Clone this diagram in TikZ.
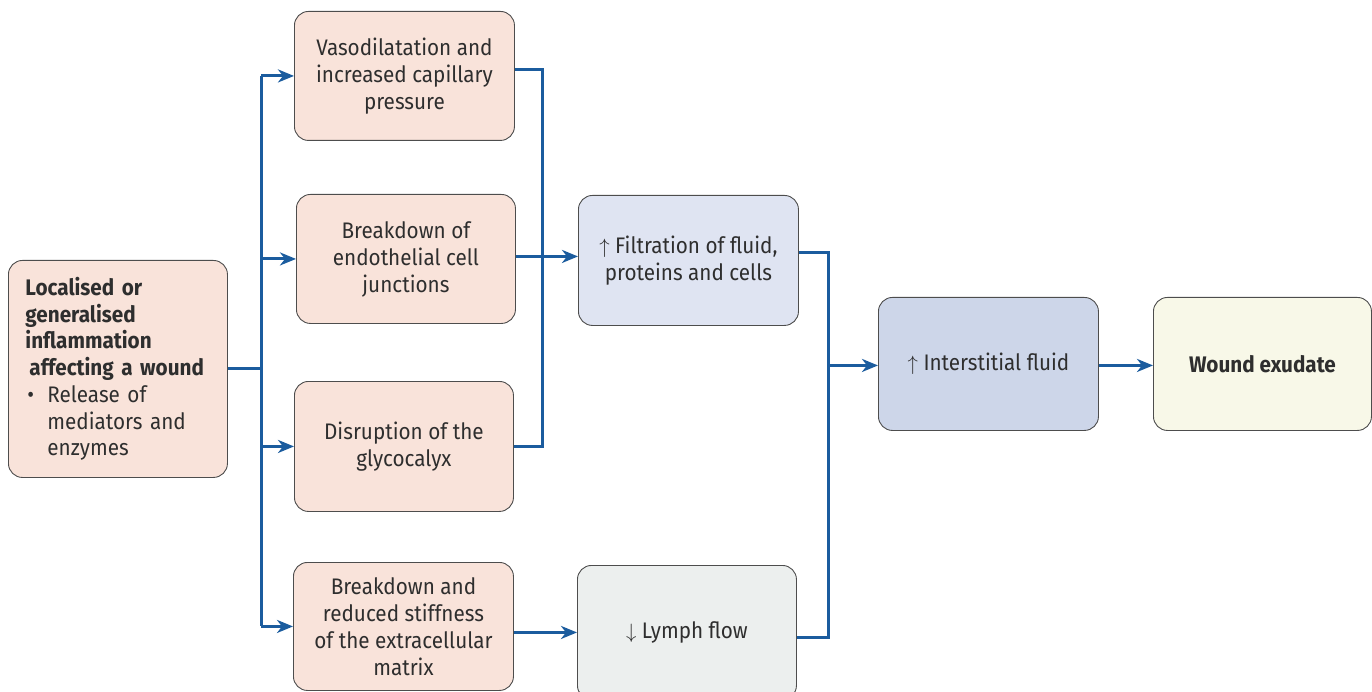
\documentclass[tikz,border=0pt]{standalone}
\usepackage{fontspec}
\setmainfont{Fira Sans}[FakeStretch=0.92]
\usetikzlibrary{arrows.meta,calc}
\definecolor{pinkfill}{HTML}{F9E3DA}
\definecolor{filtfill}{HTML}{DFE4F2}
\definecolor{intfill}{HTML}{CDD6E9}
\definecolor{woundfill}{HTML}{F8F8E8}
\definecolor{lymphfill}{HTML}{ECEFEE}
\definecolor{bordergray}{HTML}{4D4D4D}
\definecolor{textgray}{HTML}{2E2E2E}
\definecolor{linkblue}{HTML}{1B5C9E}
\begin{document}
\begin{tikzpicture}[x=1pt,y=-1pt,
  box/.style={draw=bordergray, line width=0.9pt, rounded corners=14pt, align=center,
    text=textgray, inner sep=0pt, anchor=north west, font=\fontsize{22.5}{27}\selectfont},
  link/.style={draw=linkblue, line width=3pt},
  arr/.style={link, -{Stealth[length=16pt,width=13pt,inset=5pt]}}]
\useasboundingbox (0,0) rectangle (1372,692);

\node[box, fill=pinkfill, text width=185pt, inner xsep=17pt, minimum height=217pt, align=left,
  font=\fontsize{22.5}{26.7}\selectfont] (inf) at (8,260)
  {\textbf{Localised or}\\\textbf{generalised}\\\textbf{inflammation}\\\hspace*{4pt}\textbf{affecting a wound}\\
   \makebox[22pt][l]{\hspace*{2pt}•}Release of\\\hspace*{22pt}mediators and\\\hspace*{22pt}enzymes};

\node[box, fill=pinkfill, minimum width=220pt, minimum height=129pt] (vaso) at (294,11)
  {Vasodilatation and\\increased capillary\\pressure};
\node[box, fill=pinkfill, minimum width=219pt, minimum height=129pt] (endo) at (296,194)
  {Breakdown of\\endothelial cell\\junctions};
\node[box, fill=pinkfill, minimum width=219pt, minimum height=130pt] (glyco) at (294,381)
  {Disruption of the\\glycocalyx};
\node[box, fill=pinkfill, minimum width=220pt, minimum height=128pt] (ecm) at (293,562)
  {Breakdown and\\reduced stiffness\\of the extracellular\\matrix};

\node[box, fill=filtfill, minimum width=220pt, minimum height=130pt] (filt) at (578,195)
  {$\uparrow$ Filtration of fluid,\\proteins and cells};
\node[box, fill=lymphfill, minimum width=219pt, minimum height=134pt] (lymph) at (577,565)
  {$\downarrow$ Lymph flow};

\node[box, fill=intfill, minimum width=220pt, minimum height=133pt] (inter) at (878,297)
  {$\uparrow$ Interstitial fluid};
\node[box, fill=woundfill, minimum width=218pt, minimum height=133pt] (wound) at (1153,297)
  {\textbf{Wound exudate}};

% left distribution
\coordinate (trunk) at (261,0);
\coordinate (colA) at (542,0);
\coordinate (colB) at (828,0);
\draw[link] (inf.east) -- (inf.east -| trunk);
\draw[link] (vaso.west -| trunk) -- (ecm.west -| trunk);
\draw[arr] (vaso.west -| trunk) -- (vaso.west);
\draw[arr] (endo.west -| trunk) -- (endo.west);
\draw[arr] (glyco.west -| trunk) -- (glyco.west);
\draw[arr] (ecm.west -| trunk) -- (ecm.west);

% first collector
\coordinate (vout) at ($(vaso.east)+(0,-6.5)$);
\draw[link] (vout) -- (vout -| colA) -- (glyco.east -| colA) -- (glyco.east);
\coordinate (eout) at ($(endo.east)+(0,-2.5)$);
\draw[arr] (eout) -- (eout -| filt.west);
\coordinate (mout) at ($(ecm.east)+(0,6)$);
\draw[arr] (mout) -- (mout -| lymph.west);

% second collector
\coordinate (fout) at ($(filt.east)+(0,-8)$);
\coordinate (lout) at ($(lymph.east)+(0,5)$);
\draw[link] (fout) -- (fout -| colB) -- (lout -| colB) -- (lout);
\coordinate (iin) at ($(inter.west)+(0,1.5)$);
\draw[arr] (iin -| colB) -- (iin);
\draw[arr] (iin -| inter.east) -- (iin -| wound.west);
\end{tikzpicture}
\end{document}
